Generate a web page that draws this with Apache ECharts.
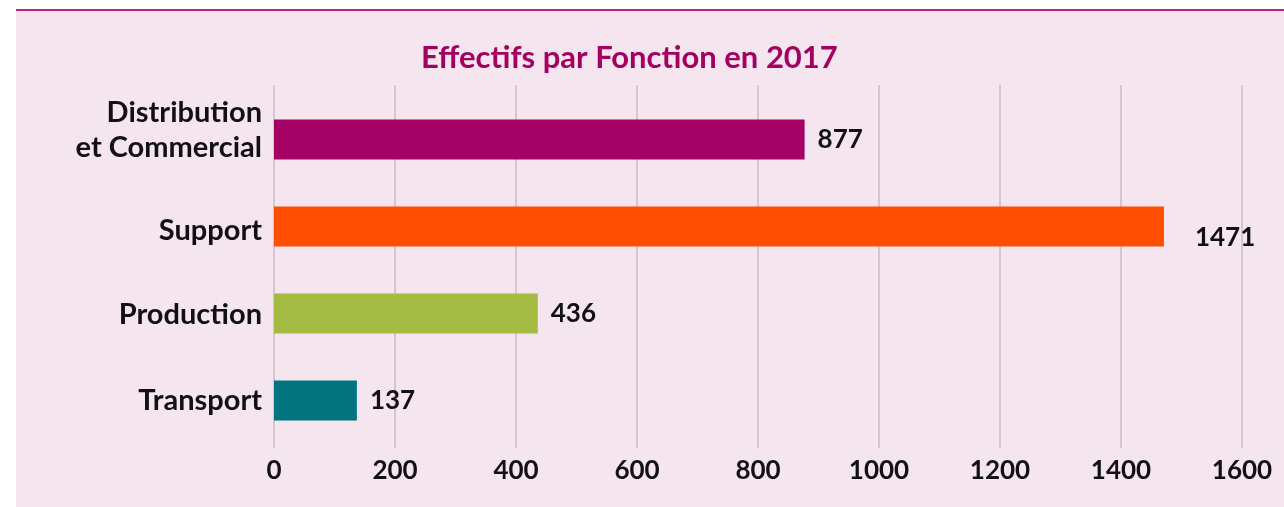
<!DOCTYPE html>
<html><head><meta charset="utf-8">
<script src="https://cdn.jsdelivr.net/npm/echarts@6/dist/echarts.min.js"></script>
<style>
html,body{margin:0;padding:0;background:#ffffff;}
#frame{position:absolute;left:16px;top:9px;width:1268px;height:498px;background:#f5e5ef;border-top:2px solid #c4207c;}
#chart{position:absolute;left:0;top:0;width:1284px;height:507px;}
</style></head>
<body>
<div id="frame"></div>
<div id="chart"></div>
<script>
const title = 'Effectifs par Fonction en 2017';
const categories = ['Distribution\net Commercial', 'Support', 'Production', 'Transport'];
const values = [877, 1471, 436, 137];
const colors = ['#a50064', '#ff4e00', '#a3bb41', '#007580'];
const xTicks = [0, 200, 400, 600, 800, 1000, 1200, 1400, 1600];

const FONT = 'Lato';
// vertical nudge of each category label (px, positive = down)
const labelShift = [-9, 4, 1, 0];
const chart = echarts.init(document.getElementById('chart'), null, {renderer: 'canvas'});

function fmtCat(v, i) {
  const lines = v.split('\n').map(s => '{t|' + s + '}');
  const s = labelShift[i];
  if (s < 0) lines.push('{s' + (-2 * s) + '| }');
  else if (s > 0) lines.unshift('{s' + (2 * s) + '| }');
  return lines.join('\n');
}
const rich = {t: {fontFamily: FONT, fontWeight: 'bold', fontSize: 29, color: '#111', lineHeight: 35, align: 'right'}};
labelShift.forEach(s => { const h = Math.abs(2 * s); if (h) rich['s' + h] = {lineHeight: h, fontSize: 1}; });

const option = {
  backgroundColor: 'transparent',
  animation: false,
  title: {
    text: title, left: 416, top: 37,
    textStyle: {fontFamily: FONT, fontWeight: 'bold', fontSize: 31, color: '#a3005f'}
  },
  grid: [
    {left: 274, right: 42, top: 85, bottom: 59},
    {left: 274, right: 42, top: 96, height: 348}
  ],
  xAxis: [
    {gridIndex: 0, type: 'value', min: xTicks[0], max: xTicks[xTicks.length-1], interval: 200,
     axisLine: {show: false}, axisTick: {show: false},
     splitLine: {show: true, lineStyle: {color: '#d2c7cf', width: 2}},
     axisLabel: {margin: 10, fontFamily: FONT, fontWeight: 'bold', fontSize: 26, color: '#111',
                 formatter: v => String(v)}},
    {gridIndex: 1, type: 'value', min: xTicks[0], max: xTicks[xTicks.length-1], interval: 200,
     show: false, splitLine: {show: false}}
  ],
  yAxis: [
    {gridIndex: 0, type: 'category', data: categories, show: false},
    {gridIndex: 1, type: 'category', inverse: true, data: categories,
     axisLine: {show: false}, axisTick: {show: false},
     axisLabel: {margin: 12, formatter: fmtCat, rich: rich}}
  ],
  series: [{
    type: 'bar', xAxisIndex: 1, yAxisIndex: 1, barWidth: 40,
    data: values.map((v, i) => ({
      value: v,
      itemStyle: {color: colors[i]},
      label: i === 1 ? {offset: [18, 11]} : {}
    })),
    label: {show: true, position: 'right', distance: 13, fontFamily: FONT, fontWeight: 'bold', fontSize: 26, color: '#111'}
  }]
};
chart.setOption(option);
</script>
</body></html>
